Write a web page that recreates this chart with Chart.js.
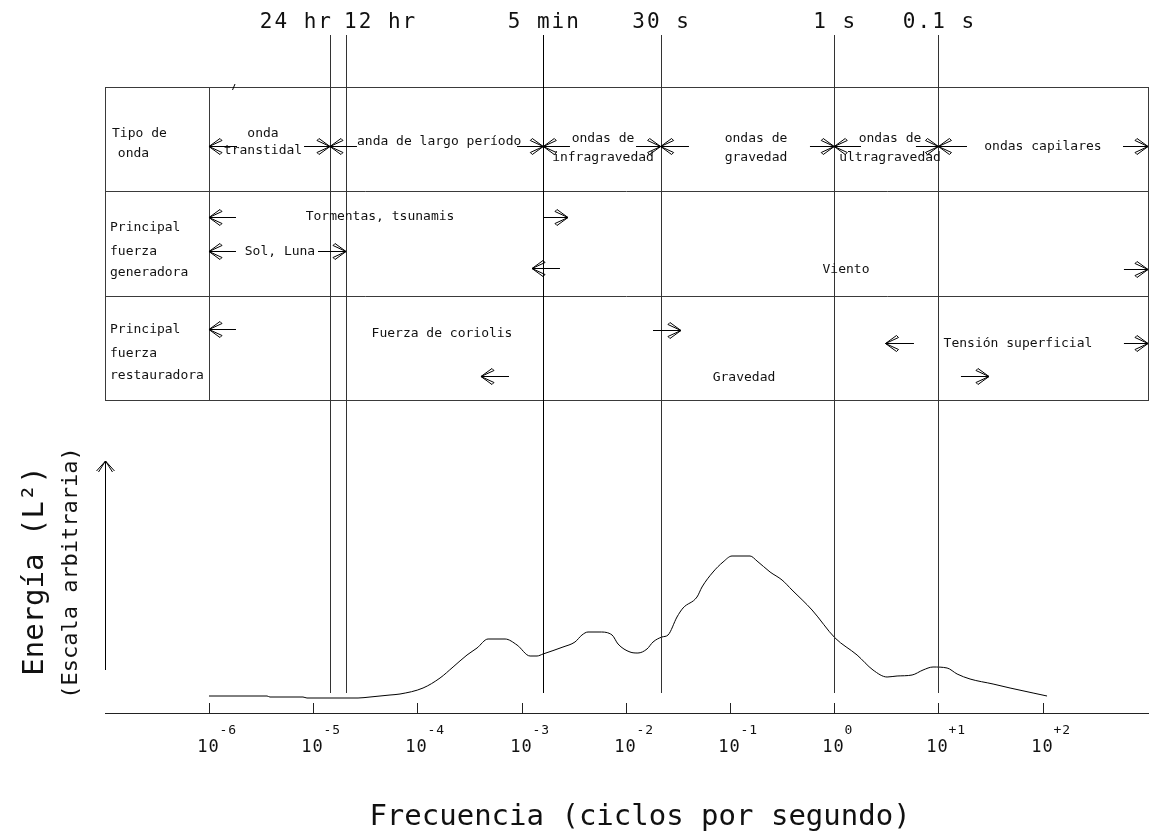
<!DOCTYPE html>
<html>
<head>
<meta charset="utf-8">
<script src="https://cdn.jsdelivr.net/npm/chart.js@4"></script>
<style>html,body{margin:0;padding:0;background:#fff;}canvas{display:block;}</style>
</head>
<body>
<canvas id="c" width="1151" height="836"></canvas>
<script>
// ---- data ----
// log10 of frequency (cycles per second) along the energy curve
const freqLog = [-6.000,-5.443,-5.415,-5.098,-5.060,-4.570,-4.455,-4.263,-4.167,-3.946,-3.783,-3.658,-3.524,-3.428,-3.322,-3.159,-3.044,-2.919,-2.852,-2.795,-2.603,-2.488,-2.421,-2.363,-2.248,-2.132,-2.075,-1.960,-1.884,-1.797,-1.739,-1.653,-1.595,-1.509,-1.451,-1.317,-1.269,-1.163,-1.067,-0.981,-0.808,-0.741,-0.616,-0.501,-0.405,-0.213,0.008,0.219,0.372,0.507,0.603,0.747,0.852,0.948,1.083,1.179,1.303,1.524,1.687,1.908,2.042];
// energy, arbitrary scale
const energy = [0.85,0.85,0.80,0.80,0.75,0.75,0.80,0.90,0.95,1.25,1.75,2.30,2.90,3.25,3.70,3.70,3.40,2.85,2.85,2.95,3.30,3.55,3.90,4.05,4.05,3.90,3.45,3.05,3.00,3.20,3.55,3.80,3.90,4.80,5.25,5.80,6.30,7.05,7.55,7.85,7.85,7.60,7.05,6.65,6.15,5.15,3.75,2.90,2.15,1.80,1.85,1.90,2.15,2.30,2.25,1.95,1.70,1.45,1.25,1.00,0.85];
// period markers
const periodLabels = ['24 hr','12 hr','5 min','30 s','1 s','0.1 s'];
const periodFreqLog = [-4.839,-4.685,-2.792,-1.666,0,1];
// decade ticks
const decadeExponents = [-6,-5,-4,-3,-2,-1,0,1,2];
const decadeLabels = ['-6','-5','-4','-3','-2','-1','0','+1','+2'];
// table texts
const rowTitles = [['Tipo de',' onda'],['Principal','fuerza','generadora'],['Principal','fuerza','restauradora']];
const waveTypeNames = [['onda','transtidal'],['anda de largo período'],['ondas de','infragravedad'],['ondas de','gravedad'],['ondas de','ultragravedad'],['ondas capilares']];
const generatingForces = ['Tormentas, tsunamis','Sol, Luna','Viento'];
const restoringForces = ['Fuerza de coriolis','Gravedad','Tensión superficial'];
const axisTitleX = 'Frecuencia (ciclos por segundo)';
const axisTitleY = 'Energía (L²)';
const axisSubtitleY = '(Escala arbitraria)';

const FONT = '"DejaVu Sans Mono", monospace';

const diagram = {
  id: 'diagram',
  afterDraw(chart) {
    const ctx = chart.ctx, xs = chart.scales.x, ys = chart.scales.y, ca = chart.chartArea;
    const X = v => xs.getPixelForValue(v);
    const Y = v => ys.getPixelForValue(v);
    const c = p => Math.round(p) + 0.5;
    ctx.save();
    ctx.lineWidth = 1;
    const line = (x1, y1, x2, y2, col) => {
      ctx.beginPath(); ctx.strokeStyle = col || '#000';
      ctx.moveTo(x1, y1); ctx.lineTo(x2, y2); ctx.stroke();
    };
    const txt = (s, x, y, size, align, ls) => {
      ls = ls || 0;
      ctx.font = size + 'px ' + FONT;
      ctx.letterSpacing = ls + 'px';
      ctx.textAlign = 'left'; ctx.textBaseline = 'alphabetic';
      const w = ctx.measureText(s).width - ls;
      let x0 = x;
      if (align === 'center') x0 = x - w / 2;
      else if (align === 'right') x0 = x - w;
      ctx.fillStyle = '#111';
      ctx.fillText(s, x0, y);
    };
    // arrow head; dir=+1 points right, -1 points left
    const head = (tx, y, dir) => {
      const L = 11, W = 8;
      ctx.beginPath(); ctx.strokeStyle = '#000';
      for (const s of [-1, 1]) {
        ctx.moveTo(tx, y);
        ctx.lineTo(tx - dir * L, y + s * W);
        ctx.lineTo(tx - dir * (L + 2), y + s * (W - 2));
        ctx.lineTo(tx, y);
      }
      ctx.stroke();
    };
    const arrow = (fromV, tipV, y) => {
      const a = X(fromV), b = X(tipV);
      line(a, c(y), b, c(y));
      head(b, c(y), b > a ? 1 : -1);
    };

    // ---- table ----
    const L0 = ca.left, R0 = X(3.011), T0 = 87, r1 = 191, r2 = 296, B0 = 400;
    const grid = '#3a3a3a';
    ctx.strokeStyle = grid;
    ctx.strokeRect(c(L0), c(T0), Math.round(R0 - L0), B0 - T0);
    line(L0, c(r1), R0, c(r1), grid);
    line(L0, c(r2), R0, c(r2), grid);
    line(c(X(-6)), T0, c(X(-6)), B0, grid);
    line(232.5, 90, 235, 84, '#000'); // small stray mark

    // ---- period marker lines ----
    periodFreqLog.forEach((v, i) => {
      line(c(X(v)), 35, c(X(v)), Y(1.0), i === 2 ? '#000' : '#333');
    });
    // period labels
    periodLabels.forEach((s, i) => {
      const x = X(periodFreqLog[i]);
      if (i === 0) txt(s, x + 1, 28, 21, 'right', 2);
      else if (i === 1) txt(s, x - 2, 28, 21, 'left', 2);
      else txt(s, x, 28, 21, 'center', 2);
    });

    // ---- row titles ----
    txt(rowTitles[0][0], 112, 137, 13, 'left');
    txt(rowTitles[0][1], 110, 157, 13, 'left');
    [231, 255, 276].forEach((y, i) => txt(rowTitles[1][i], 110, y, 13, 'left'));
    [333, 357, 379].forEach((y, i) => txt(rowTitles[2][i], 110, y, 13, 'left'));

    // ---- row 1: wave types ----
    const yA = 146;
    arrow(-5.731, -6, yA);
    txt(waveTypeNames[0][0], X(-5.482), 137, 13, 'center');
    txt(waveTypeNames[0][1], X(-5.482), 154, 13, 'center');
    const crossAt = (m, a, b) => { arrow(a, m, yA); arrow(b, m, yA); };
    crossAt(periodFreqLog[0], -5.088, -4.580);
    txt(waveTypeNames[1][0], X(-4.580), 145, 13, 'left');
    crossAt(periodFreqLog[2], -3.044, -2.536);
    txt(waveTypeNames[2][0], X(-2.219), 142, 13, 'center');
    txt(waveTypeNames[2][1], X(-2.219), 161, 13, 'center');
    crossAt(periodFreqLog[3], -1.902, -1.394);
    txt(waveTypeNames[3][0], X(-0.751), 142, 13, 'center');
    txt(waveTypeNames[3][1], X(-0.751), 161, 13, 'center');
    crossAt(periodFreqLog[4], -0.233, 0.257);
    txt(waveTypeNames[4][0], X(0.535), 142, 13, 'center');
    txt(waveTypeNames[4][1], X(0.535), 161, 13, 'center');
    crossAt(periodFreqLog[5], 0.784, 1.274);
    txt(waveTypeNames[5][0], X(2.003), 150, 13, 'center');
    arrow(2.771, 3.011, yA);

    // ---- row 2: generating forces ----
    arrow(-5.741, -6, 217);
    txt(generatingForces[0], X(-4.359), 220, 13, 'center');
    arrow(periodFreqLog[2], -2.555, 217);
    arrow(-5.741, -6, 251);
    txt(generatingForces[1], X(-5.319), 255, 13, 'center');
    arrow(-4.954, periodFreqLog[1], 251);
    arrow(-2.632, -2.900, 268);
    txt(generatingForces[2], X(0.113), 273, 13, 'center');
    arrow(2.780, 3.011, 269);

    // ---- row 3: restoring forces ----
    arrow(-5.741, -6, 329);
    txt(restoringForces[0], X(-3.764), 337, 13, 'center');
    arrow(-1.739, -1.471, 330);
    arrow(-3.121, -3.390, 376);
    txt(restoringForces[1], X(-0.866), 381, 13, 'center');
    arrow(0.765, 0.492, 343);
    txt(restoringForces[2], X(1.763), 347, 13, 'center');
    arrow(2.780, 3.011, 343);
    arrow(1.216, 1.485, 376);

    // ---- frequency axis ----
    const y0 = Y(0);
    line(ca.left, c(y0), 1149, c(y0), '#222');
    decadeExponents.forEach((e, i) => {
      const tx = c(X(e));
      line(tx, y0 - 10, tx, y0, '#222');
      txt('10', tx - 1.5, 752, 17, 'center', 1);
      txt(decadeLabels[i], tx + 10, 734, 13, 'left', 1);
    });
    txt(axisTitleX, 640, 825, 29, 'center', 0);

    // ---- energy axis arrow and titles ----
    const ax = c(ca.left);
    line(ax, 670, ax, 461, '#000');
    ctx.beginPath(); ctx.strokeStyle = '#000';
    ctx.moveTo(ax - 9, 471); ctx.lineTo(ax, 461); ctx.lineTo(ax + 9, 471);
    ctx.moveTo(ax - 7, 472); ctx.lineTo(ax, 461); ctx.lineTo(ax + 7, 472);
    ctx.stroke();
    ctx.save();
    ctx.translate(43, 571); ctx.rotate(-Math.PI / 2);
    txt(axisTitleY, 0, 0, 29, 'center', 0);
    ctx.restore();
    ctx.save();
    ctx.translate(77, 573); ctx.rotate(-Math.PI / 2);
    txt(axisSubtitleY, 0, 0, 22, 'center', 0);
    ctx.restore();

    ctx.restore();
  }
};

new Chart(document.getElementById('c'), {
  type: 'line',
  data: {
    datasets: [{
      data: freqLog.map((x, i) => ({ x: x, y: energy[i] })),
      borderColor: '#000',
      borderWidth: 1,
      pointRadius: 0,
      fill: false,
      cubicInterpolationMode: 'monotone'
    }]
  },
  options: {
    responsive: false,
    animation: false,
    devicePixelRatio: 1,
    layout: { padding: { left: 105, right: 1, top: 433, bottom: 123 } },
    scales: {
      x: { type: 'linear', min: -6.998, max: 3.03, display: false },
      y: { type: 'linear', min: 0, max: 14, display: false }
    },
    plugins: { legend: { display: false }, tooltip: { enabled: false } }
  },
  plugins: [diagram]
});
</script>
</body>
</html>
